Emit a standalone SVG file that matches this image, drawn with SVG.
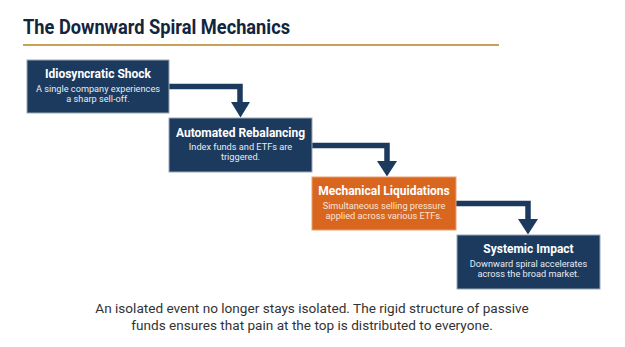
<svg xmlns="http://www.w3.org/2000/svg" width="625" height="347" viewBox="0 0 625 347">
<defs>
<style>
.box{fill:#1c3a5e;stroke:#9aa7b6;stroke-width:1}
.box.hl{fill:#d9661f;stroke:#e8a070}
.t{font-family:Roboto,"Liberation Sans",sans-serif;font-weight:bold;font-size:12px;fill:#fff;text-anchor:middle}
.s{font-family:Roboto,"Liberation Sans",sans-serif;font-size:9.2px;fill:#e6ebf1;text-anchor:middle}
.hl-s{fill:#fbe3d3}
.conn{fill:none;stroke:#1c3a5e;stroke-width:5.5;stroke-linejoin:miter}
.head{fill:#1c3a5e}
</style>
</defs>
<rect width="625" height="347" fill="#fff"/>
<text x="23" y="34" font-family="Roboto,'Liberation Sans',sans-serif" font-weight="bold" font-size="20.5" fill="#14243d" textLength="267" lengthAdjust="spacingAndGlyphs">The Downward Spiral Mechanics</text>
<line x1="23" y1="45" x2="499" y2="45" stroke="#c9a25a" stroke-width="2"/>
<g id="connectors">
<path class="conn" d="M169 86.5 H240 V103"/>
<polygon class="head" points="231,102 250,102 240.5,117.5"/>
<path class="conn" d="M312 145.5 H387 V162"/>
<polygon class="head" points="377,161 397,161 387,176.5"/>
<path class="conn" d="M456 203.5 H528 V220"/>
<polygon class="head" points="518,219 538,219 528,234.5"/>
</g>
<g id="node1">
<rect class="box" x="27" y="60" width="142" height="53"/>
<text class="t" x="98" y="78">Idiosyncratic Shock</text>
<text class="s" x="98" y="92">A single company experiences</text>
<text class="s" x="98" y="102">a sharp sell-off.</text>
</g>
<g id="node2">
<rect class="box" x="169" y="118" width="143" height="54"/>
<text class="t" x="240.5" y="137">Automated Rebalancing</text>
<text class="s" x="240.5" y="150">Index funds and ETFs are</text>
<text class="s" x="240.5" y="160">triggered.</text>
</g>
<g id="node3">
<rect class="box hl" x="312" y="177" width="144" height="53"/>
<text class="t" x="384" y="195">Mechanical Liquidations</text>
<text class="s hl-s" x="384" y="209">Simultaneous selling pressure</text>
<text class="s hl-s" x="384" y="219">applied across various ETFs.</text>
</g>
<g id="node4">
<rect class="box" x="457" y="235" width="143" height="54"/>
<text class="t" x="528.5" y="253">Systemic Impact</text>
<text class="s" x="528.5" y="267">Downward spiral accelerates</text>
<text class="s" x="528.5" y="277">across the broad market.</text>
</g>
<g id="footer" font-family="Roboto,'Liberation Sans',sans-serif" font-size="13.6" fill="#333" text-anchor="middle">
<text x="312" y="313">An isolated event no longer stays isolated. The rigid structure of passive</text>
<text x="312" y="330">funds ensures that pain at the top is distributed to everyone.</text>
</g>
</svg>
